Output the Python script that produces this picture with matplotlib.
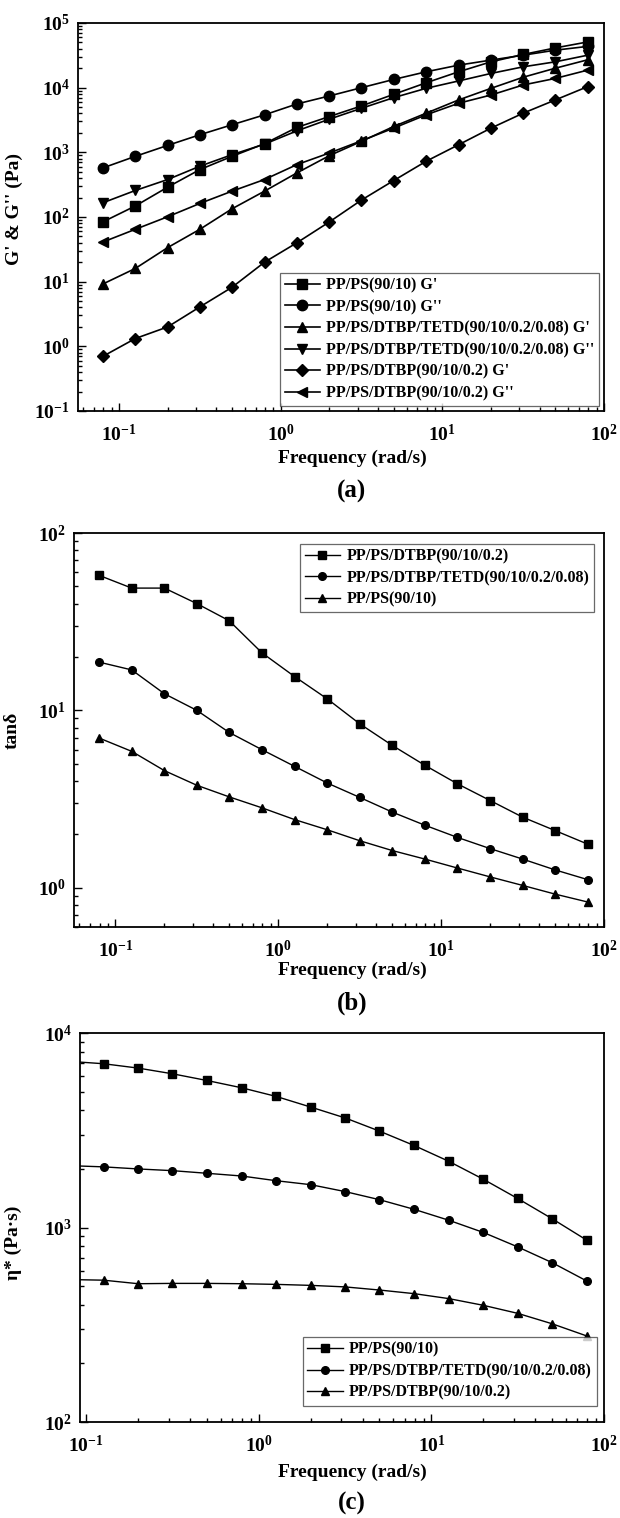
import matplotlib
matplotlib.use("Agg")
import matplotlib.pyplot as plt
from matplotlib.ticker import LogLocator, FuncFormatter, NullFormatter
import numpy as np

plt.rcParams['font.family'] = ['Liberation Serif', 'DejaVu Serif']
plt.rcParams['font.weight'] = 'bold'
plt.rcParams['mathtext.fontset'] = 'custom'
plt.rcParams['mathtext.rm'] = 'Liberation Serif:bold'
plt.rcParams['mathtext.bf'] = 'Liberation Serif:bold'
plt.rcParams['mathtext.it'] = 'Liberation Serif:bold:italic'

# ---------------- data ----------------
freq = [0.0794, 0.126, 0.2, 0.316, 0.5, 0.794, 1.26, 2.0, 3.16, 5.0,
        7.94, 12.6, 20.0, 31.6, 50.0, 79.4]

# panel (a): storage / loss moduli (Pa)
a_pp_g1 = [84, 148, 290, 541, 867, 1360, 2430, 3580, 5220, 7890,
           11900, 17600, 25100, 32600, 41200, 51000]
a_pp_g2 = [574, 867, 1282, 1870, 2670, 3800, 5600, 7450, 10000, 13400,
           17600, 22300, 26700, 31800, 38000, 43500]
a_tetd_g1 = [9.2, 16, 33.7, 64.5, 134, 251, 481, 889, 1480, 2510,
             4030, 6460, 9770, 14500, 20000, 27000]
a_tetd_g2 = [166, 257, 380, 610, 920, 1340, 2150, 3260, 4800, 7010,
             9770, 12700, 16600, 21000, 25100, 31800]
a_dtbp_g1 = [0.70, 1.32, 2.0, 4.07, 8.2, 20, 40, 84, 183, 366,
             728, 1310, 2370, 4030, 6460, 10400]
a_dtbp_g2 = [41, 64.5, 101, 162, 251, 380, 646, 977, 1510, 2370,
             3800, 5740, 7700, 11000, 13900, 18700]
a_labels = ["PP/PS(90/10) G'", "PP/PS(90/10) G''",
            "PP/PS/DTBP/TETD(90/10/0.2/0.08) G'",
            "PP/PS/DTBP/TETD(90/10/0.2/0.08) G''",
            "PP/PS/DTBP(90/10/0.2) G'", "PP/PS/DTBP(90/10/0.2) G''"]

# panel (b): tan delta
b_dtbp = [57.7, 48.9, 48.9, 40, 32, 21.1, 15.5, 11.6, 8.4, 6.35,
          4.9, 3.85, 3.1, 2.5, 2.1, 1.76]
b_tetd = [18.7, 16.9, 12.4, 10, 7.5, 6.0, 4.83, 3.89, 3.23, 2.67,
          2.25, 1.92, 1.66, 1.45, 1.26, 1.11]
b_pp = [6.98, 5.87, 4.57, 3.78, 3.25, 2.82, 2.42, 2.12, 1.84, 1.62,
        1.45, 1.29, 1.15, 1.03, 0.92, 0.83]
b_labels = ["PP/PS/DTBP(90/10/0.2)", "PP/PS/DTBP/TETD(90/10/0.2/0.08)",
            "PP/PS(90/10)"]

# panel (c): complex viscosity (Pa·s)
c_pp = [7150, 6950, 6600, 6170, 5700, 5230, 4720, 4160, 3660, 3130,
        2640, 2190, 1770, 1410, 1110, 861]
c_tetd = [2080, 2050, 2000, 1960, 1900, 1840, 1740, 1660, 1530, 1390,
          1240, 1090, 943, 795, 660, 531]
c_dtbp = [540, 536, 514, 516, 516, 514, 510, 504, 495, 477,
          457, 431, 398, 362, 320, 277]
c_labels = ["PP/PS(90/10)", "PP/PS/DTBP/TETD(90/10/0.2/0.08)",
            "PP/PS/DTBP(90/10/0.2)"]

# ---------------- figure ----------------
W, H = 620, 1518
fig = plt.figure(figsize=(W / 100, H / 100), dpi=100)


def box(l, t, r, b):
    return [l / W, 1 - b / H, (r - l) / W, (b - t) / H]


def fmt(v, pos):
    e = int(round(np.log10(v)))
    return r"$\mathrm{10^{%d}}$" % e


def style(ax):
    ax.set_xscale('log')
    ax.set_yscale('log')
    for s in ax.spines.values():
        s.set_linewidth(1.3)
    ax.tick_params(which='both', direction='in', top=False, right=False,
                   labelsize=14, width=1.0)
    ax.tick_params(which='major', length=6, pad=6)
    ax.tick_params(axis='x', which='major', pad=9)
    ax.tick_params(which='minor', length=3)
    for axis in (ax.xaxis, ax.yaxis):
        axis.set_major_locator(LogLocator(base=10, numticks=15))
        axis.set_minor_locator(LogLocator(base=10, subs=np.arange(2, 10), numticks=15))
        axis.set_major_formatter(FuncFormatter(fmt))
        axis.set_minor_formatter(NullFormatter())


def legend(ax, loc, anchor):
    lg = ax.legend(loc=loc, bbox_to_anchor=anchor, fancybox=False,
                   frameon=True, edgecolor='#444444', fontsize=11.5,
                   handlelength=2.2, handletextpad=0.4, labelspacing=0.35,
                   borderpad=0.3, borderaxespad=0.3)
    lg.get_frame().set_linewidth(0.9)
    for t in lg.get_texts():
        t.set_fontweight('bold')
    return lg


# ----- (a) -----
axa = fig.add_axes(box(78, 23, 604, 411))
style(axa)
mk_a = dict(color='black', lw=1.2, ms=7.5, mfc='black', mec='black')
axa.plot(freq, a_pp_g1, marker='s', label=a_labels[0], **mk_a)
axa.plot(freq, a_pp_g2, marker='o', label=a_labels[1], **mk_a)
axa.plot(freq, a_tetd_g1, marker='^', label=a_labels[2], **mk_a)
axa.plot(freq, a_tetd_g2, marker='v', label=a_labels[3], **mk_a)
axa.plot(freq, a_dtbp_g1, marker='D', label=a_labels[4], **dict(mk_a, ms=6.5))
axa.plot(freq, a_dtbp_g2, marker='<', label=a_labels[5], **mk_a)
axa.set_xlim(0.0557, 100)
axa.set_ylim(0.1, 1e5)
axa.set_ylabel("G' & G'' (Pa)", fontsize=14, fontweight='bold')
axa.yaxis.set_label_coords(-0.105, 0.52)
legend(axa, 'lower right', (1.0, 0.0))

# ----- (b) -----
axb = fig.add_axes(box(74, 533, 604, 927))
style(axb)
mk_b = dict(color='black', lw=1.0, ms=5.5, mfc='black', mec='black')
axb.plot(freq, b_dtbp, marker='s', label=b_labels[0], **mk_b)
axb.plot(freq, b_tetd, marker='o', label=b_labels[1], **mk_b)
axb.plot(freq, b_pp, marker='^', label=b_labels[2], **mk_b)
axb.set_xlim(0.0557, 100)
axb.set_ylim(0.6, 100)
axb.set_ylabel("tanδ", fontsize=14, fontweight='bold')
axb.yaxis.set_label_coords(-0.1, 0.5)
legend(axb, 'upper right', (0.99, 0.985))

# ----- (c) -----
axc = fig.add_axes(box(80, 1033, 604, 1422))
style(axc)
axc.plot(freq, c_pp, marker='s', label=c_labels[0], **mk_b)
axc.plot(freq, c_tetd, marker='o', label=c_labels[1], **mk_b)
axc.plot(freq, c_dtbp, marker='^', label=c_labels[2], **mk_b)
axc.set_xlim(0.092, 100)
axc.set_ylim(100, 1e4)
axc.set_ylabel("η* (Pa·s)", fontsize=14, fontweight='bold')
axc.yaxis.set_label_coords(-0.11, 0.46)
legend(axc, 'lower right', (0.995, 0.03))

# x labels and panel letters
for y_xl, y_pl, letter in [(458, 491, '(a)'), (970, 1003, '(b)'), (1472, 1503, '(c)')]:
    fig.text(352 / W, 1 - y_xl / H, "Frequency (rad/s)", ha='center', va='center',
             fontsize=14, fontweight='bold')
    fig.text(352 / W, 1 - y_pl / H, letter, ha='center', va='center',
             fontsize=18, fontweight='bold')

fig.savefig("out.png", dpi=100)
